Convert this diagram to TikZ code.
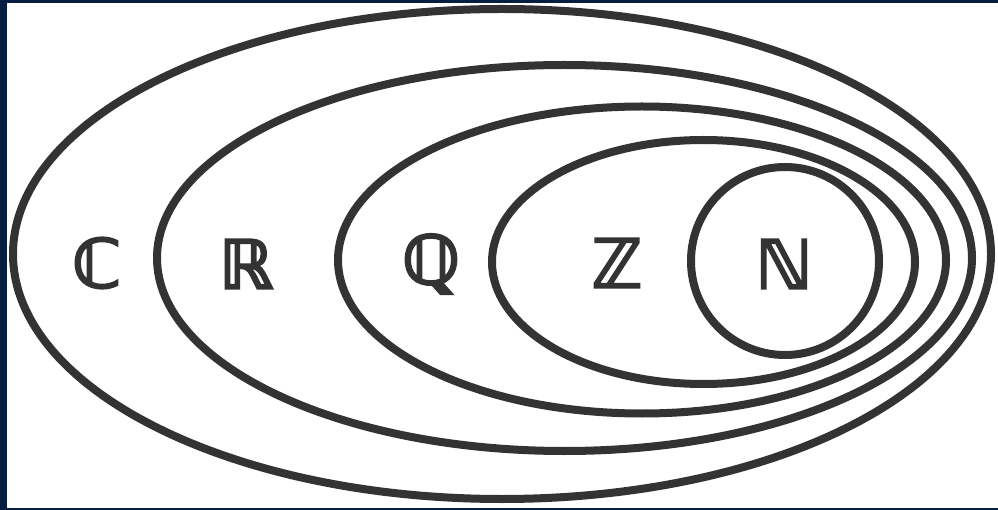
\documentclass[tikz,border=0pt]{standalone}
\usepackage{fontspec}
\newfontfamily\dsfont[FakeBold=2.5]{DejaVu Sans Bold}
\definecolor{frame}{HTML}{061F40}
\definecolor{ink}{HTML}{333333}
\tikzset{
  ring/.style={draw=ink, line width=8pt},
  setlabel/.style={text=ink, font=\dsfont\fontsize{68}{80}\selectfont, inner sep=0pt}
}
\begin{document}
\begin{tikzpicture}[x=1pt,y=-1pt]
\useasboundingbox (0,0) rectangle (998,510);
\fill[frame] (0,0) rectangle (998,510);
\fill[white] (7,3) rectangle (998,508);
\draw[ring] (502,254) ellipse [x radius=489, y radius=245];
\draw[ring] (564.5,258) ellipse [x radius=407.5, y radius=193];
\draw[ring] (642,260) ellipse [x radius=304, y radius=153.5];
\draw[ring] (703.5,262) ellipse [x radius=211.5, y radius=122];
\draw[ring] (785,261) circle [radius=94];
\node[setlabel] (C) at (97,263) {ℂ};
\node[setlabel] (R) at (246,264) {ℝ};
\node[setlabel] (Q) at (431,264) {ℚ};
\node[setlabel] (Z) at (617,263) {ℤ};
\node[setlabel] (N) at (784,264) {ℕ};
\end{tikzpicture}
\end{document}
